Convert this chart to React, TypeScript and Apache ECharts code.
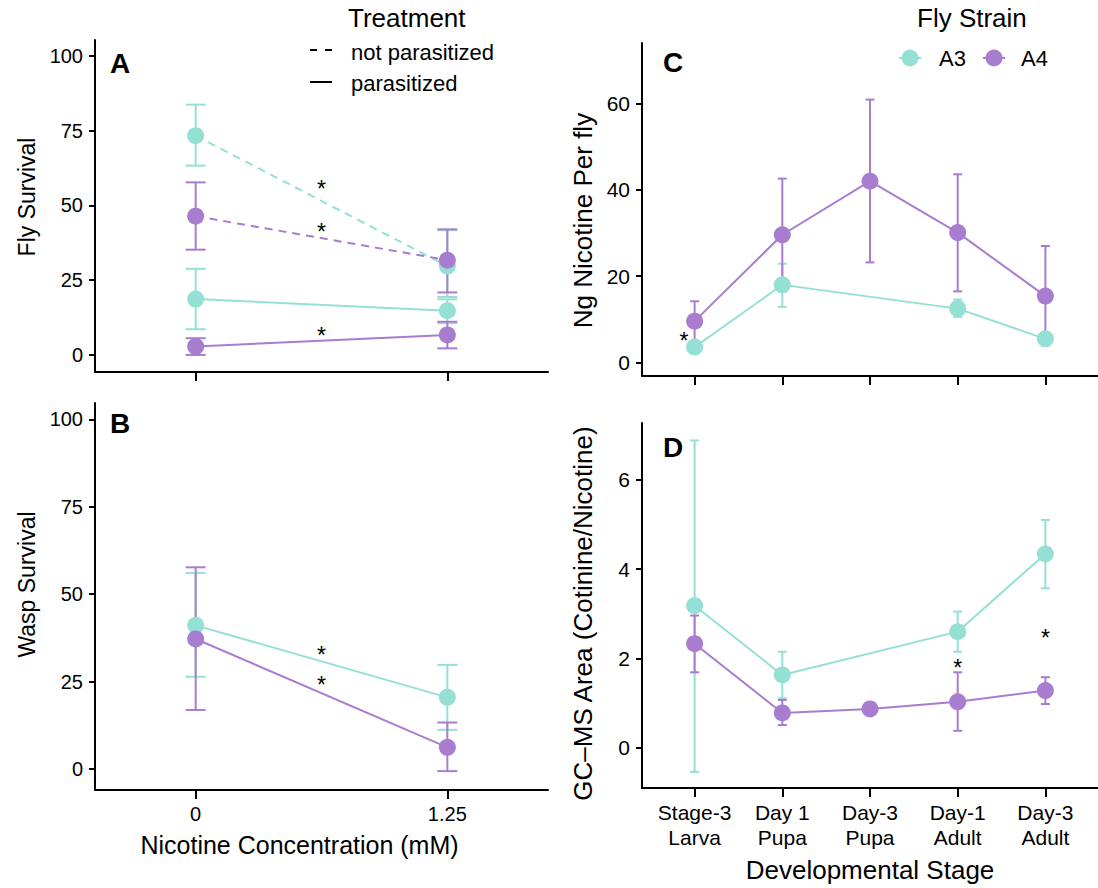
import React, { useEffect, useRef } from "react";
import * as echarts from "echarts";

const TEAL = "#95e0d5";
const PURPLE = "#a87dcf";
const FONT = "'Liberation Sans', Arial, Helvetica, sans-serif";

// ---- Panels A & B : nicotine concentration ----
const concentrations = [0, 1.25];
const concLabels = ["0", "1.25"];
const survivalTicks = [0, 25, 50, 75, 100];

// A: Fly survival
const flyA3NotPar = [73.3, 29.7];
const flyA3NotParLo = [63.3, 19.4];
const flyA3NotParHi = [83.7, 41.7];
const flyA4NotPar = [46.4, 31.7];
const flyA4NotParLo = [35.2, 20.9];
const flyA4NotParHi = [57.7, 42.0];
const flyA3Par = [18.7, 14.8];
const flyA3ParLo = [8.6, 10.6];
const flyA3ParHi = [28.8, 18.6];
const flyA4Par = [2.8, 6.7];
const flyA4ParLo = [0.0, 2.2];
const flyA4ParHi = [5.6, 11.1];

// B: Wasp survival
const waspA3 = [41.1, 20.5];
const waspA3Lo = [26.4, 11.2];
const waspA3Hi = [56.1, 29.8];
const waspA4 = [37.2, 6.2];
const waspA4Lo = [16.9, -0.6];
const waspA4Hi = [57.7, 13.3];

// ---- Panels C & D : developmental stage ----
const stages = ["Stage-3\nLarva", "Day 1\nPupa", "Day-3\nPupa", "Day-1\nAdult", "Day-3\nAdult"];
const stageIdx = [0, 1, 2, 3, 4];
const nicotineTicks = [0, 20, 40, 60];
const gcTicks = [0, 2, 4, 6];

// C: Ng nicotine per fly
const nicA3 = [3.6, 18.0, null, 12.5, 5.5];
const nicA3Lo = [2.8, 12.9, null, 10.6, 4.3];
const nicA3Hi = [4.4, 22.9, null, 14.6, 6.7];
const nicA4 = [9.6, 29.6, 42.0, 30.1, 15.4];
const nicA4Lo = [5.0, 16.5, 23.2, 16.5, 4.0];
const nicA4Hi = [14.2, 42.6, 60.9, 43.6, 27.0];

// D: GC-MS area ratio
const gcA3 = [3.18, 1.63, null, 2.6, 4.34];
const gcA3Lo = [-0.54, 1.11, null, 2.15, 3.57];
const gcA3Hi = [6.88, 2.15, null, 3.05, 5.1];
const gcA4 = [2.33, 0.78, 0.87, 1.03, 1.28];
const gcA4Lo = [1.69, 0.51, 0.76, 0.38, 0.98];
const gcA4Hi = [2.96, 1.07, 0.98, 1.69, 1.58];

// significance asterisks [x, y]
const starsA = [[0.625, 57.2], [0.625, 42.8], [0.625, 8.0]];
const starsB = [[0.625, 34.1], [0.625, 25.5]];
const starsC = [[-0.12, 6.1]];
const starsD = [[3, 1.89], [4, 2.56]];

const pts = (xs: number[], ys: (number | null)[]) =>
  xs.map((x, i) => (ys[i] == null ? [x, "-"] : [x, ys[i]]));
const errs = (xs: number[], lo: (number | null)[], hi: (number | null)[]) =>
  xs
    .map((x, i) => (lo[i] == null || hi[i] == null ? null : [x, lo[i], hi[i]]))
    .filter((d) => d !== null);

function errSeries(xi: number, data: any[], color: string, capHalf: number) {
  return {
    type: "custom",
    xAxisIndex: xi,
    yAxisIndex: xi,
    data,
    encode: { x: 0, y: [1, 2] },
    silent: true,
    z: 2,
    renderItem: (_p: any, api: any) => {
      const x = api.value(0);
      const a = api.coord([x, api.value(1)]);
      const b = api.coord([x, api.value(2)]);
      const st = { stroke: color, lineWidth: 2 };
      return {
        type: "group",
        children: [
          { type: "line", shape: { x1: a[0], y1: a[1], x2: b[0], y2: b[1] }, style: st },
          { type: "line", shape: { x1: a[0] - capHalf, y1: a[1], x2: a[0] + capHalf, y2: a[1] }, style: st },
          { type: "line", shape: { x1: b[0] - capHalf, y1: b[1], x2: b[0] + capHalf, y2: b[1] }, style: st },
        ],
      };
    },
  };
}

function lineSeries(name: string, xi: number, data: any[], color: string, dashed: boolean) {
  return {
    type: "line",
    name,
    xAxisIndex: xi,
    yAxisIndex: xi,
    data,
    connectNulls: true,
    symbol: "circle",
    symbolSize: 17,
    showSymbol: true,
    silent: true,
    z: 3,
    lineStyle: { color, width: 2, type: dashed ? [8, 6] : "solid" },
    itemStyle: { color, opacity: 1 },
  };
}

function starSeries(xi: number, data: number[][]) {
  return {
    type: "custom",
    xAxisIndex: xi,
    yAxisIndex: xi,
    data,
    encode: { x: 0, y: 1 },
    silent: true,
    z: 5,
    renderItem: (_p: any, api: any) => {
      const c = api.coord([api.value(0), api.value(1)]);
      return {
        type: "text",
        x: c[0],
        y: c[1] + 5,
        style: { text: "*", fontSize: 23, fontFamily: FONT, fill: "#000", align: "center", verticalAlign: "middle" },
      };
    },
  };
}

const axisLine = { show: true, onZero: false, lineStyle: { color: "#000", width: 2 } };
const tickStyle = { color: "#000", width: 2 };

function yAxis(
  grid: number,
  min: number,
  max: number,
  ticks: number[],
  name: string,
  gap: number,
  labelSize: number,
  nameSize: number,
  namePad: number[]
) {
  return {
    type: "value",
    gridIndex: grid,
    min,
    max,
    name,
    nameLocation: "middle",
    nameGap: gap,
    nameTextStyle: { color: "#000", fontSize: nameSize, fontFamily: FONT, padding: namePad },
    axisLine,
    axisTick: { show: true, length: 6, lineStyle: tickStyle, customValues: ticks },
    axisLabel: { color: "#000", fontSize: labelSize, fontFamily: FONT, margin: 12, customValues: ticks },
    splitLine: { show: false },
  };
}

export default function App() {
  const ref = useRef<HTMLDivElement>(null);
  useEffect(() => {
    if (!ref.current) return;
    const chart = echarts.init(ref.current, undefined, { renderer: "svg" });
    const concFmt = (v: number) => {
      const i = concentrations.indexOf(v);
      return i >= 0 ? concLabels[i] : "";
    };
    const stageFmt = (v: number) => {
      const i = stageIdx.indexOf(v);
      return i >= 0 ? stages[i] : "";
    };
    const xConc = (grid: number, showLabels: boolean, name: string) => ({
      type: "value",
      gridIndex: grid,
      min: -0.5,
      max: 1.75,
      name,
      nameLocation: "middle",
      nameGap: 42,
      nameTextStyle: { color: "#000", fontSize: 25, fontFamily: FONT, padding: [0, 44, 0, 0] },
      axisLine,
      axisTick: { show: true, length: 9, lineStyle: tickStyle, customValues: concentrations },
      axisLabel: {
        color: "#000",
        fontSize: 20,
        fontFamily: FONT,
        show: showLabels,
        margin: 14,
        customValues: concentrations,
        formatter: concFmt,
      },
      splitLine: { show: false },
    });
    const xStage = (grid: number, showLabels: boolean, name: string) => ({
      type: "value",
      gridIndex: grid,
      min: -0.6,
      max: 4.6,
      name,
      nameLocation: "middle",
      nameGap: 69,
      nameTextStyle: { color: "#000", fontSize: 26, fontFamily: FONT },
      axisLine,
      axisTick: { show: true, length: 9, lineStyle: tickStyle, customValues: stageIdx },
      axisLabel: {
        color: "#000",
        fontSize: 21,
        fontFamily: FONT,
        show: showLabels,
        margin: 12,
        lineHeight: 25,
        customValues: stageIdx,
        formatter: stageFmt,
      },
      splitLine: { show: false },
    });

    const letter = (t: string, x: number, y: number) => ({
      type: "text",
      x,
      y,
      style: { text: t, fontSize: 28, fontWeight: "bold", fontFamily: FONT, fill: "#000", align: "left", verticalAlign: "middle" },
    });
    const txt = (t: string, x: number, y: number, size: number) => ({
      type: "text",
      x,
      y,
      style: { text: t, fontSize: size, fontFamily: FONT, fill: "#000", align: "left", verticalAlign: "middle" },
    });

    chart.setOption({
      animation: false,
      backgroundColor: "#fff",
      grid: [
        { left: 95, top: 40, width: 453, height: 332 },
        { left: 95, top: 403, width: 453, height: 387 },
        { left: 642, top: 43, width: 465, height: 333 },
        { left: 642, top: 423, width: 465, height: 365 },
      ],
      xAxis: [
        xConc(0, false, ""),
        xConc(1, true, "Nicotine Concentration (mM)"),
        xStage(2, false, ""),
        xStage(3, true, "Developmental Stage"),
      ],
      yAxis: [
        yAxis(0, -5.7, 105.3, survivalTicks, "Fly Survival", 57, 20, 23, [0, 0, 0, 18]),
        yAxis(1, -6, 104.7, survivalTicks, "Wasp Survival", 57, 20, 23, [0, 0, 0, 24]),
        yAxis(2, -3.1, 74, nicotineTicks, "Ng Nicotine Per fly", 46, 21, 26, [0, 22, 0, 0]),
        yAxis(3, -0.9, 7.27, gcTicks, "GC\u2013MS Area (Cotinine/Nicotine)", 46, 21, 26, [0, 16, 0, 0]),
      ],
      series: [
        // A
        errSeries(0, errs(concentrations, flyA3NotParLo, flyA3NotParHi), TEAL, 10),
        errSeries(0, errs(concentrations, flyA3ParLo, flyA3ParHi), TEAL, 10),
        lineSeries("A3", 0, pts(concentrations, flyA3NotPar), TEAL, true),
        lineSeries("A3", 0, pts(concentrations, flyA3Par), TEAL, false),
        errSeries(0, errs(concentrations, flyA4NotParLo, flyA4NotParHi), PURPLE, 10),
        errSeries(0, errs(concentrations, flyA4ParLo, flyA4ParHi), PURPLE, 10),
        lineSeries("A4", 0, pts(concentrations, flyA4NotPar), PURPLE, true),
        lineSeries("A4", 0, pts(concentrations, flyA4Par), PURPLE, false),
        starSeries(0, starsA),
        // B
        errSeries(1, errs(concentrations, waspA3Lo, waspA3Hi), TEAL, 10),
        lineSeries("A3", 1, pts(concentrations, waspA3), TEAL, false),
        errSeries(1, errs(concentrations, waspA4Lo, waspA4Hi), PURPLE, 10),
        lineSeries("A4", 1, pts(concentrations, waspA4), PURPLE, false),
        starSeries(1, starsB),
        // C
        errSeries(2, errs(stageIdx, nicA3Lo, nicA3Hi), TEAL, 4.5),
        lineSeries("A3", 2, pts(stageIdx, nicA3), TEAL, false),
        errSeries(2, errs(stageIdx, nicA4Lo, nicA4Hi), PURPLE, 4.5),
        lineSeries("A4", 2, pts(stageIdx, nicA4), PURPLE, false),
        starSeries(2, starsC),
        // D
        errSeries(3, errs(stageIdx, gcA3Lo, gcA3Hi), TEAL, 4.5),
        lineSeries("A3", 3, pts(stageIdx, gcA3), TEAL, false),
        errSeries(3, errs(stageIdx, gcA4Lo, gcA4Hi), PURPLE, 4.5),
        lineSeries("A4", 3, pts(stageIdx, gcA4), PURPLE, false),
        starSeries(3, starsD),
      ],
      graphic: [
        letter("A", 110, 63),
        letter("B", 110, 423),
        letter("C", 663, 62),
        letter("D", 663, 447),
        // Treatment legend
        txt("Treatment", 348, 18, 26),
        { type: "line", shape: { x1: 310, y1: 50, x2: 332, y2: 50 }, style: { stroke: "#000", lineWidth: 2, lineDash: [7, 8] } },
        txt("not parasitized", 351, 52, 22),
        { type: "line", shape: { x1: 310, y1: 82, x2: 332, y2: 82 }, style: { stroke: "#000", lineWidth: 2 } },
        txt("parasitized", 351, 83, 22),
        // Fly strain legend
        txt("Fly Strain", 917, 18, 26),
        { type: "line", shape: { x1: 899, y1: 58, x2: 921, y2: 58 }, style: { stroke: TEAL, lineWidth: 2 } },
        { type: "circle", shape: { cx: 910, cy: 58, r: 8.5 }, style: { fill: TEAL } },
        txt("A3", 939, 58, 22),
        { type: "line", shape: { x1: 983, y1: 58, x2: 1005, y2: 58 }, style: { stroke: PURPLE, lineWidth: 2 } },
        { type: "circle", shape: { cx: 994, cy: 58, r: 8.5 }, style: { fill: PURPLE } },
        txt("A4", 1021, 58, 22),
      ],
    });
    return () => chart.dispose();
  }, []);
  return (
    <div
      ref={ref}
      style={{ position: "fixed", left: 0, top: 0, width: 1098, height: 888, background: "#fff" }}
    />
  );
}
